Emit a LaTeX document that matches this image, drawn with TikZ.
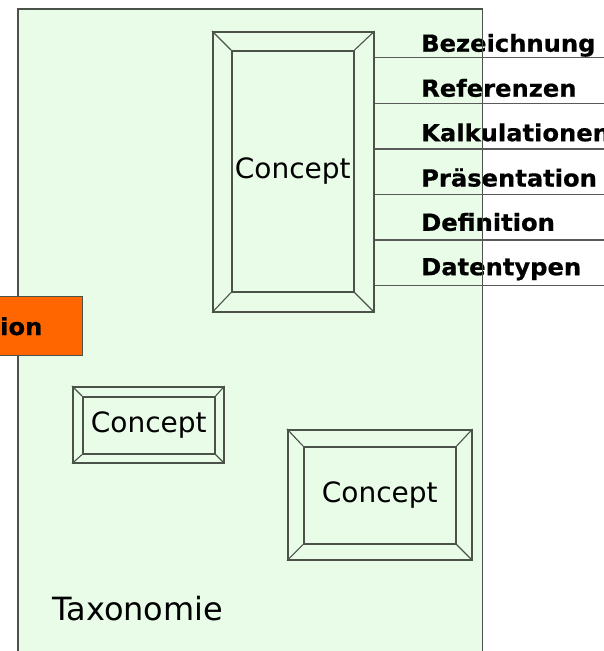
\documentclass[tikz,border=0pt]{standalone}
\usepackage{fontspec}
\setmainfont{DejaVu Sans}
\newfontfamily\labfont[FakeStretch=1.03,FakeBold=0.6]{DejaVu Sans}
\definecolor{taxfill}{HTML}{E8FCE8}
\definecolor{edge}{HTML}{4A524A}
\definecolor{lineclr}{HTML}{5A5A5A}
\definecolor{orangebox}{HTML}{FF6600}
\begin{document}
\begin{tikzpicture}[x=1pt,y=-1pt,line join=miter,
  boxline/.style={draw=edge,line width=1.6pt},
  outerbox/.style={boxline,fill=taxfill,inner sep=0pt,anchor=north west},
  innerbox/.style={boxline,fill=taxfill,inner sep=0pt,anchor=north west,
    font=\fontsize{28}{32}\selectfont},
  bevel/.style={draw=edge,line width=1.1pt},
  attrline/.style={draw=lineclr,line width=1.5pt},
  attrlab/.style={anchor=base west,inner sep=0pt,font=\fontsize{23.5}{26}\labfont\bfseries}]
\clip (0,0) rectangle (604,651);
\fill[white] (0,0) rectangle (604,651);
% taxonomy area
\node[fill=taxfill,inner sep=0pt,anchor=north west,minimum width=464pt,minimum height=660pt] (tax) at (18,9) {};
\node[anchor=base west,inner sep=0pt,font=\fontsize{32}{36}\selectfont] (taxlab) at (52,620) {Taxonomie};
% attribute lines and labels
\coordinate (l1) at (604,57.7);
\coordinate (l2) at (604,103.3);
\coordinate (l3) at (604,149);
\coordinate (l4) at (604,194.3);
\coordinate (l5) at (604,240);
\coordinate (l6) at (604,285.7);
\node[attrlab] (a1) at (421,51.7) {Bezeichnung};
\node[attrlab] (a2) at (421,96.7) {Referenzen};
\node[attrlab] (a3) at (421,141.2) {Kalkulationen};
\node[attrlab] (a4) at (421,186.5) {Präsentation};
\node[attrlab] (a5) at (421,230.8) {Definition};
\node[attrlab] (a6) at (421,275.2) {Datentypen};
\draw[boxline,fill=none] (tax.north west) rectangle (tax.south east);
% big concept
\node[outerbox,minimum width=161pt,minimum height=280pt] (c1o) at (212,31) {};
\node[innerbox,minimum width=122pt,minimum height=241pt] (c1i) at (231,50) {Concept};
\foreach \a in {north west,north east,south west,south east}{\draw[bevel] (c1o.\a) -- (c1i.\a);}
\foreach \l in {l1,l2,l3,l4,l5,l6}{\draw[attrline] (c1o.east |- \l) -- (\l);}
% small concept
\node[outerbox,minimum width=151pt,minimum height=76pt] (c2o) at (72,386) {};
\node[innerbox,minimum width=132pt,minimum height=57pt] (c2i) at (82,396) {Concept};
\foreach \a in {north west,north east,south west,south east}{\draw[bevel] (c2o.\a) -- (c2i.\a);}
% third concept
\node[outerbox,minimum width=184pt,minimum height=130pt] (c3o) at (287,429) {};
\node[innerbox,minimum width=152pt,minimum height=97pt] (c3i) at (303,446) {Concept};
\foreach \a in {north west,north east,south west,south east}{\draw[bevel] (c3o.\a) -- (c3i.\a);}
% orange box
\node[draw=edge,line width=1.4pt,fill=orangebox,inner sep=0pt,anchor=north west,minimum width=92pt,minimum height=59pt] (orange) at (-10,296) {};
\node[anchor=base west,inner sep=0pt,font=\fontsize{23.5}{26}\labfont\bfseries] (olab) at (0,335) {ion};
\end{tikzpicture}
\end{document}
